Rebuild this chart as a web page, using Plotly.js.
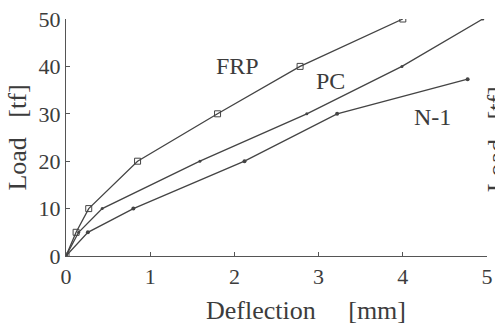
<!DOCTYPE html>
<html><head><meta charset="utf-8">
<script src="https://cdn.plot.ly/plotly-3.0.1.min.js"></script>
<style>html,body{margin:0;padding:0;background:#fff;}#chart{width:495px;height:327px;}</style>
</head><body><div id="chart"></div>
<script>
const frpX = [0, 0.12, 0.27, 0.85, 1.8, 2.78, 4.0];
const frpY = [0, 5, 10, 20, 30, 40, 50];
const pcX = [0, 0.15, 0.43, 1.59, 2.86, 3.99, 4.95];
const pcY = [0, 5, 10, 20, 30, 40, 50];
const n1X = [0, 0.26, 0.8, 2.12, 3.22, 4.77];
const n1Y = [0, 5, 10, 20, 30, 37.3];
const seriesNames = ["FRP", "PC", "N-1"];
const xTicks = [0, 1, 2, 3, 4, 5];
const yTicks = [0, 10, 20, 30, 40, 50];
const xTitle = 'Deflection\u00a0\u00a0\u00a0\u00a0\u00a0[mm]';
const yTitle = 'Load\u00a0\u00a0\u00a0[tf]';

const ink = '#3c3c3c';
const font = "'Liberation Serif', 'Times New Roman', Times, serif";

const traces = [
  {x: frpX, y: frpY, name: seriesNames[0], mode: 'lines+markers',
   line: {color: '#444', width: 1.3},
   marker: {symbol: 'square-open', size: 6, color: '#444', line: {width: 1}}},
  {x: pcX, y: pcY, name: seriesNames[1], mode: 'lines+markers',
   line: {color: '#444', width: 1.3},
   marker: {symbol: 'circle', size: 3, color: '#444'}},
  {x: n1X, y: n1Y, name: seriesNames[2], mode: 'lines+markers',
   line: {color: '#444', width: 1.3},
   marker: {symbol: 'circle', size: 4, color: '#444'}}
];

const layout = {
  width: 495, height: 327,
  margin: {l: 66, r: 8, t: 19, b: 71},
  paper_bgcolor: '#fff', plot_bgcolor: '#fff',
  showlegend: false,
  font: {family: font, color: ink, size: 22},
  xaxis: {range: [0, 5], tickvals: xTicks, ticktext: xTicks.map(String),
    showgrid: false, zeroline: false, showline: true, linecolor: '#555', linewidth: 1.2,
    ticks: 'inside', ticklen: 4, tickcolor: '#555',
    tickfont: {family: font, size: 22, color: ink}},
  yaxis: {range: [0, 50], tickvals: yTicks, ticktext: yTicks.map(String),
    showgrid: false, zeroline: false, showline: true, linecolor: '#555', linewidth: 1.2,
    ticks: 'inside', ticklen: 4, tickcolor: '#555',
    tickfont: {family: font, size: 22, color: ink},
    title: {text: yTitle, font: {family: font, size: 26, color: ink}, standoff: 4}},
  annotations: [
    {x: 0.57, y: -0.228, xref: 'paper', yref: 'paper', yanchor: 'middle', text: xTitle, showarrow: false, font: {family: font, size: 26, color: ink}},
    {x: 2.04, y: 40.1, xref: 'x', yref: 'y', text: seriesNames[0], showarrow: false, font: {family: font, size: 24, color: ink}},
    {x: 3.14, y: 36.9, xref: 'x', yref: 'y', text: seriesNames[1], showarrow: false, font: {family: font, size: 24, color: ink}},
    {x: 4.35, y: 29.3, xref: 'x', yref: 'y', text: seriesNames[2], showarrow: false, font: {family: font, size: 24, color: ink}},
    {x: 1.0, y: 0.49, xref: 'paper', yref: 'paper', xanchor: 'left', xshift: -7, text: yTitle, textangle: -90, showarrow: false, font: {family: font, size: 26, color: ink}}
  ]
};
Plotly.newPlot('chart', traces, layout, {displayModeBar: false, staticPlot: true});
</script></body></html>
